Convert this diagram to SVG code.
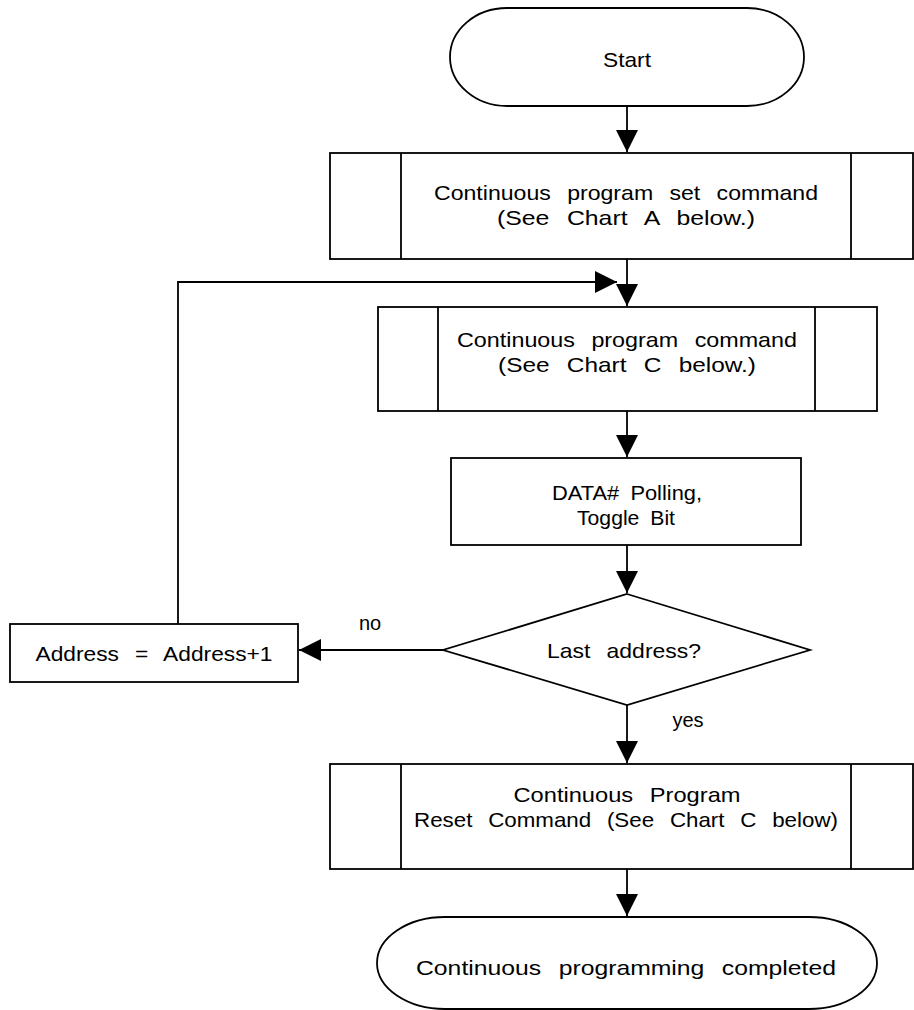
<svg xmlns="http://www.w3.org/2000/svg" width="914" height="1010" viewBox="0 0 914 1010">
  <style>
    .shape { fill: #ffffff; stroke: #000000; stroke-width: 1.8; }
    .edge { fill: none; stroke: #000000; stroke-width: 1.8; }
    .label { font-family: "Liberation Sans", Arial, sans-serif; font-size: 21px; fill: #000000; text-anchor: middle; word-spacing: 9px; }
    .tight { word-spacing: 5px; }
    .small { font-family: "Liberation Sans", Arial, sans-serif; font-size: 20px; fill: #000000; text-anchor: middle; }
  </style>
  <defs>
    <marker id="arrow" markerUnits="userSpaceOnUse" markerWidth="22" markerHeight="22" refX="22" refY="11" orient="auto" viewBox="0 0 22 22">
      <path d="M0,0 L22,11 L0,22 Z" fill="#000000"/>
    </marker>
  </defs>
  <rect width="914" height="1010" fill="#ffffff"/>

  <!-- connectors -->
  <g id="connectors">
    <line class="edge" x1="627" y1="106" x2="627" y2="152" marker-end="url(#arrow)"/>
    <line class="edge" x1="627" y1="259" x2="627" y2="306" marker-end="url(#arrow)"/>
    <polyline class="edge" points="178,624 178,282 617,282" marker-end="url(#arrow)"/>
    <line class="edge" x1="627" y1="411" x2="627" y2="457" marker-end="url(#arrow)"/>
    <line class="edge" x1="627" y1="545" x2="627" y2="593" marker-end="url(#arrow)"/>
    <line class="edge" x1="443" y1="650" x2="299" y2="650" marker-end="url(#arrow)"/>
    <line class="edge" x1="627" y1="705" x2="627" y2="763" marker-end="url(#arrow)"/>
    <line class="edge" x1="627" y1="869" x2="627" y2="916" marker-end="url(#arrow)"/>
    <text class="small" x="370" y="630">no</text>
    <text class="small" x="688" y="727">yes</text>
  </g>

  <!-- start terminal -->
  <g id="start">
    <rect class="shape" x="450" y="8" width="354" height="98" rx="57" ry="49"/>
    <text class="label" x="627" y="67" textLength="48" lengthAdjust="spacingAndGlyphs">Start</text>
  </g>

  <!-- predefined process: set command -->
  <g id="set-command">
    <rect class="shape" x="330" y="153" width="583" height="106"/>
    <line class="edge" x1="401" y1="153" x2="401" y2="259"/>
    <line class="edge" x1="851" y1="153" x2="851" y2="259"/>
    <text class="label" x="626" y="200" textLength="384" lengthAdjust="spacingAndGlyphs">Continuous program set command</text>
    <text class="label" x="626" y="225" textLength="258" lengthAdjust="spacingAndGlyphs">(See Chart A below.)</text>
  </g>

  <!-- predefined process: program command -->
  <g id="program-command">
    <rect class="shape" x="378" y="307" width="499" height="104"/>
    <line class="edge" x1="438" y1="307" x2="438" y2="411"/>
    <line class="edge" x1="815" y1="307" x2="815" y2="411"/>
    <text class="label" x="627" y="347" textLength="340" lengthAdjust="spacingAndGlyphs">Continuous program command</text>
    <text class="label" x="627" y="372" textLength="258" lengthAdjust="spacingAndGlyphs">(See Chart C below.)</text>
  </g>

  <!-- polling step -->
  <g id="polling">
    <rect class="shape" x="451" y="458" width="350" height="87"/>
    <text class="label tight" x="627" y="500" textLength="150" lengthAdjust="spacingAndGlyphs">DATA# Polling,</text>
    <text class="label tight" x="626" y="525" textLength="98" lengthAdjust="spacingAndGlyphs">Toggle Bit</text>
  </g>

  <!-- decision -->
  <g id="last-address">
    <polygon class="shape" points="627,594 810,650 627,705 443,650"/>
    <text class="label" x="624" y="658" textLength="154" lengthAdjust="spacingAndGlyphs">Last address?</text>
  </g>

  <!-- address increment -->
  <g id="increment">
    <rect class="shape" x="10" y="624" width="288" height="58"/>
    <text class="label" x="154" y="661" textLength="237" lengthAdjust="spacingAndGlyphs">Address = Address+1</text>
  </g>

  <!-- predefined process: reset command -->
  <g id="reset-command">
    <rect class="shape" x="330" y="764" width="583" height="105"/>
    <line class="edge" x1="401" y1="764" x2="401" y2="869"/>
    <line class="edge" x1="851" y1="764" x2="851" y2="869"/>
    <text class="label" x="627" y="802" textLength="227" lengthAdjust="spacingAndGlyphs">Continuous Program</text>
    <text class="label" x="626" y="827" textLength="424" lengthAdjust="spacingAndGlyphs">Reset Command (See Chart C below)</text>
  </g>

  <!-- end terminal -->
  <g id="end">
    <rect class="shape" x="377" y="917" width="500" height="92" rx="68" ry="46"/>
    <text class="label" x="626" y="975" textLength="420" lengthAdjust="spacingAndGlyphs">Continuous programming completed</text>
  </g>
</svg>
